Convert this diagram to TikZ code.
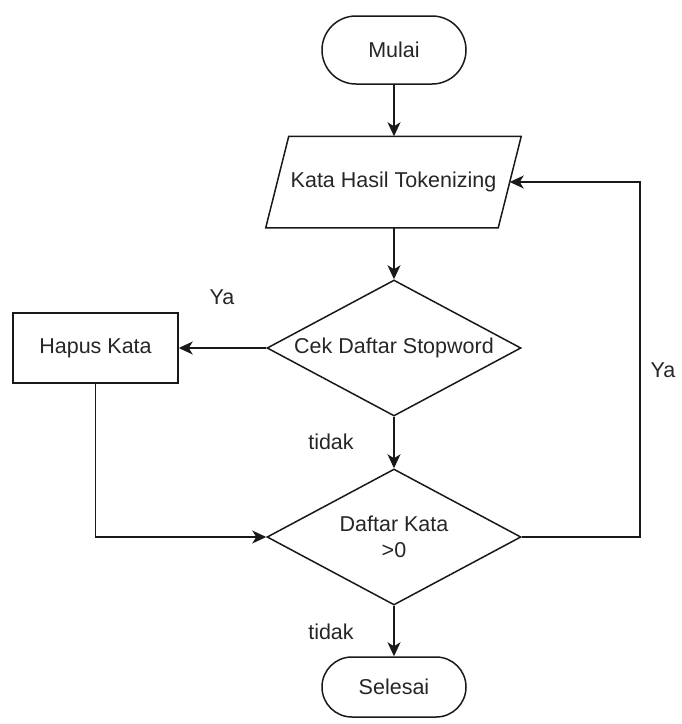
\documentclass[tikz,border=0pt]{standalone}
\usepackage{fontspec}
\setmainfont{Liberation Sans}
\usetikzlibrary{shapes.geometric,arrows.meta}
\begin{document}
\begin{tikzpicture}[x=1pt,y=-1pt,
  font=\fontsize{21.5}{26}\selectfont,
  terminal/.style={draw, rectangle, rounded corners=33.9pt, minimum width=144pt,
    minimum height=68pt, inner sep=0pt},
  iobody/.style={rectangle, minimum width=231pt, minimum height=90pt, inner sep=0pt},
  process/.style={draw, rectangle, minimum width=165pt, minimum height=70pt, inner sep=0pt},
  decision/.style={draw, diamond, aspect=1.87, minimum width=254pt, minimum height=136pt,
    inner sep=0pt, align=center},
  flow/.style={draw, -{Stealth[length=14pt,width=13pt,inset=4pt]}},
  lbl/.style={inner sep=0pt}]
  \useasboundingbox (0,0) rectangle (682,724);
  \begin{scope}[line width=1.5pt, draw=black!90, text=black!85]
    % flowchart blocks
    \node[terminal] (mulai) at (394,50) {Mulai};
    \node[iobody] (kata) at (393.5,182) {Kata Hasil Tokenizing};
    % input/output parallelogram around the text block, slanted by 23pt
    \draw ([xshift=11.5pt]kata.north west) -- ([xshift=11.5pt]kata.north east)
       -- ([xshift=-11.5pt]kata.south east) -- ([xshift=-11.5pt]kata.south west) -- cycle;
    \node[decision] (cek) at (394,348) {Cek Daftar Stopword};
    \node[process] (hapus) at (95.5,348) {Hapus Kata};
    \node[decision] (jumlah) at (394,537) {Daftar Kata\\>0};
    \node[terminal, minimum height=60pt, rounded corners=29.9pt] (selesai) at (394,687) {Selesai};
    \coordinate (balik) at (640,537);

    % connectors
    \draw[flow] (mulai) -- (mulai |- kata.north);
    \draw[flow] (mulai |- kata.south) -- (cek.north);
    \draw[flow] (cek.west) -- (hapus.east);
    \draw[flow] (cek.south) -- (jumlah.north);
    \draw[flow] (hapus.south) |- (jumlah.west);
    \draw[flow] (jumlah.east) -- (balik) |- (kata.east);
    \draw[flow] (jumlah.south) -- (selesai.north);

    % branch labels
    \node[lbl] (ya1) at (222,297) {Ya};
    \node[lbl] (ya2) at (663,370) {Ya};
    \node[lbl] (tidak1) at (331,442) {tidak};
    \node[lbl] (tidak2) at (331,632) {tidak};
  \end{scope}
\end{tikzpicture}
\end{document}
